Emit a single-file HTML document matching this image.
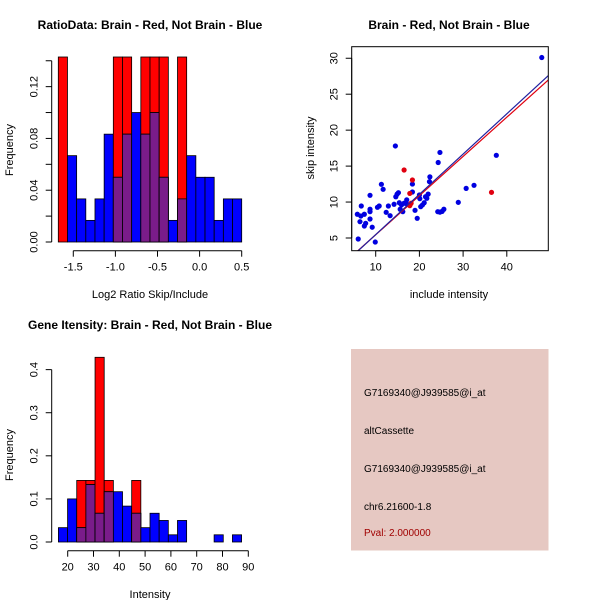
<!DOCTYPE html>
<html><head><meta charset="utf-8"><style>
body{margin:0;background:#fff}
svg{display:block;font-family:"Liberation Sans",sans-serif}
</style></head><body>
<svg id="c" width="600" height="600" viewBox="0 0 600 600">
<rect width="600" height="600" fill="#fff"/>
</svg>
<script>
// ---- Panel 1 data: ratio histogram ----
const ratioBinStart = -1.678;
const ratioBinWidth = 0.1089;
const ratioBlue = [0,0.0667,0.0333,0.0167,0.0333,0.0833,0.05,0.0833,0.1,0.0833,0.1,0.05,0.0167,0.0333,0.0667,0.05,0.05,0.0167,0.0333,0.0333];
const ratioRed  = [0.1429,0,0,0,0,0,0.1429,0.1429,0,0.1429,0.1429,0.1429,0,0.1429,0,0,0,0,0,0];
const ratioXTicks = [-1.5,-1.0,-0.5,0.0,0.5];
const ratioXTickLabels = ["-1.5","-1.0","-0.5","0.0","0.5"];
const ratioYTicks = [0,0.02,0.04,0.06,0.08,0.10,0.12,0.14];
const ratioYTickLabels = ["0.00","","0.04","","0.08","","0.12",""];
// ---- Panel 2 data: scatter ----
const blueX = [6.0,9.9,9.2,5.8,6.6,7.4,6.7,6.4,7.4,7.7,8.7,8.7,8.7,8.7,10.4,10.8,11.3,11.7,12.4,12.9,13.3,14.2,14.5,14.6,14.9,15.2,15.4,15.6,15.9,16.2,16.5,17.1,17.2,18.4,18.4,19.0,19.5,20.0,20.1,20.3,20.7,21.1,21.4,21.7,22.0,22.3,22.4,24.2,24.7,25.2,25.6,24.3,24.7,28.9,30.7,32.5,37.6,48.0];
const blueY = [4.86,4.44,6.5,8.3,8.06,8.3,9.45,7.27,6.67,7.04,7.64,8.66,9.0,10.94,9.27,9.45,12.47,11.77,8.57,9.45,8.1,9.69,17.8,10.74,11.1,11.3,9.9,9.0,9.6,8.66,9.83,10.3,9.69,12.5,11.4,8.85,7.74,10.98,10.47,9.36,9.6,9.9,10.74,10.52,11.1,12.83,13.5,8.66,8.6,8.7,9.0,15.5,16.9,9.96,11.9,12.33,16.5,30.1];
const redX = [16.5,18.4,17.8,18.1,17.8,36.5];
const redY = [14.46,13.07,11.2,9.83,9.5,11.35];
const fitBlue = [-0.13,0.56];  // intercept, slope
const fitRed = [0.0,0.545];
const scX = [10,20,30,40];
const scY = [5,10,15,20,25,30];
// ---- Panel 3 data: intensity histogram ----
const intBinStart = 16.4;
const intBinWidth = 3.55;
const intBlue = [0.0333,0.1,0.0333,0.1333,0.0667,0.1167,0.1167,0.0833,0.0667,0.0333,0.0667,0.05,0.0167,0.05,0,0,0,0.0167,0,0.0167];
const intRed  = [0,0,0.1429,0.1429,0.4286,0.1429,0,0,0.1429,0,0,0,0,0,0,0,0,0,0,0];
const intXTicks = [20,30,40,50,60,70,80,90];
const intYTicks = [0,0.1,0.2,0.3,0.4];
const intYTickLabels = ["0.0","0.1","0.2","0.3","0.4"];

const svg = document.getElementById('c');
const NS = 'http://www.w3.org/2000/svg';
function mk(tag, attrs, parent){const e=document.createElementNS(NS,tag);for(const k in attrs)e.setAttribute(k,attrs[k]);(parent||svg).appendChild(e);return e;}
function txt(s,x,y,o,parent){const e=mk('text',Object.assign({x:x,y:y,'font-size':11,'text-anchor':'middle',fill:'#000'},o||{}),parent);e.textContent=s;return e;}
const PURPLE='#7a1c8a';

function hist(g, blue, red, start, w, sx, sy){
  for(let i=0;i<blue.length;i++){
    const x0=sx(start+i*w), x1=sx(start+(i+1)*w);
    const b=blue[i], r=red[i], m=Math.min(b,r);
    if(r>0){const e=mk('rect',{x:x0,y:sy(r),width:x1-x0,height:sy(0)-sy(r),fill:'#f00',stroke:'#000','stroke-width':0.8},g);
      
      }
    if(b>0){const e=mk('rect',{x:x0,y:sy(b),width:x1-x0,height:sy(0)-sy(b),fill:'#00f',stroke:'#000','stroke-width':0.8},g);
      
      }
    if(m>0){const e=mk('rect',{x:x0,y:sy(m),width:x1-x0,height:sy(0)-sy(m),fill:PURPLE,stroke:'#000','stroke-width':0.8},g);
      
      }
    if(b>r && r>0){mk('line',{x1:x0,x2:x1,y1:sy(r),y2:sy(r),stroke:'#000','stroke-width':0.8},g);}
  }
}
function yaxis(g, ticks, labels, sy, ax){
  mk('line',{x1:ax,x2:ax,y1:sy(ticks[0]),y2:sy(ticks[ticks.length-1]),stroke:'#000'},g);
  ticks.forEach((t,i)=>{mk('line',{x1:ax-6,x2:ax,y1:sy(t),y2:sy(t),stroke:'#000'},g);
    if(labels[i]){const e=txt(labels[i],ax-14,sy(t),{transform:`rotate(-90 ${ax-14} ${sy(t)})`},g);
      
      }});
}
function xaxis(g, ticks, labels, sx, ay){
  mk('line',{x1:sx(ticks[0]),x2:sx(ticks[ticks.length-1]),y1:ay,y2:ay,stroke:'#000'},g);
  ticks.forEach((t,i)=>{mk('line',{x1:sx(t),x2:sx(t),y1:ay,y2:ay+6,stroke:'#000'},g);
    const e=txt(labels[i],sx(t),ay+20,{},g);
    
    });
}

// Panel 1
{
  const g=mk('g',{});
  
  
  const sx=v=>58.3+(v-ratioBinStart)*(183.4/(ratioBinWidth*20));
  const sy=v=>242-v*(185/0.1429);
  hist(g,ratioBlue,ratioRed,ratioBinStart,ratioBinWidth,sx,sy);
  yaxis(g,ratioYTicks,ratioYTickLabels,sy,51.7);
  xaxis(g,ratioXTicks,ratioXTickLabels,sx,250.7);
  txt('RatioData: Brain - Red, Not Brain - Blue',150,29,{'font-weight':'bold','font-size':12},g);
  txt('Log2 Ratio Skip/Include',150,298,{},g);
  txt('Frequency',13,150,{transform:'rotate(-90 13 150)'},g);
}
// Panel 2
{
  const g=mk('g',{});
  
  
  const sx=v=>375.7+(v-10)*4.37;
  const sy=v=>238-(v-5)*7.19;
  const cp=mk('clipPath',{id:'sc'},g); mk('rect',{x:351.7,y:46.7,width:196.6,height:204},cp);
  const pg=mk('g',{'clip-path':'url(#sc)'},g);
  blueX.forEach((x,i)=>{const e=mk('circle',{cx:sx(x),cy:sy(blueY[i]),r:2.6,fill:'#0000e0'},pg);
    
    });
  redX.forEach((x,i)=>{const e=mk('circle',{cx:sx(x),cy:sy(redY[i]),r:2.6,fill:'#e00010'},pg);
    
    });
  [[fitRed,'#e00010','red-fit-line'],[fitBlue,'#2020a0','blue-fit-line']].forEach(([f,c,n])=>{
    const e=mk('line',{x1:sx(0),y1:sy(f[0]),x2:sx(60),y2:sy(f[0]+f[1]*60),stroke:c,'stroke-width':1.2},pg);
    
    });
  mk('rect',{x:351.7,y:46.7,width:196.6,height:204,fill:'none',stroke:'#000'},g);
  yaxis(g,scY,scY.map(String),sy,351.7);
  xaxis(g,scX,scX.map(String),sx,250.7);
  txt('Brain - Red, Not Brain - Blue',449,29,{'font-weight':'bold','font-size':12},g);
  txt('include intensity',449,298,{},g);
  txt('skip intensity',314,148,{transform:'rotate(-90 314 148)'},g);
}
// Panel 3
{
  const g=mk('g',{});
  
  
  const sx=v=>67.7+(v-20)*2.58;
  const sy=v=>542-v*(184.7/0.4286);
  hist(g,intBlue,intRed,intBinStart,intBinWidth,sx,sy);
  yaxis(g,intYTicks,intYTickLabels,sy,51.7);
  xaxis(g,intXTicks,intXTicks.map(String),sx,550.7);
  txt('Gene Itensity: Brain - Red, Not Brain - Blue',150,329,{'font-weight':'bold','font-size':12},g);
  txt('Intensity',150,598,{},g);
  txt('Frequency',13,455,{transform:'rotate(-90 13 455)'},g);
}
// Panel 4
{
  const g=mk('g',{});
  
  
  mk('rect',{x:351,y:349,width:197.5,height:201.5,fill:'#e6c8c2'},g);
  const lines=[['G7169340@J939585@i_at',396,'#000'],['altCassette',434,'#000'],['G7169340@J939585@i_at',472,'#000'],['chr6.21600-1.8',510,'#000'],['Pval: 2.000000',536,'#a00000']];
  lines.forEach(([s,y,c],i)=>{const e=txt(s,364,y,{'text-anchor':'start','font-size':10,fill:c},g);
    
    });
}
</script>
</body></html>
